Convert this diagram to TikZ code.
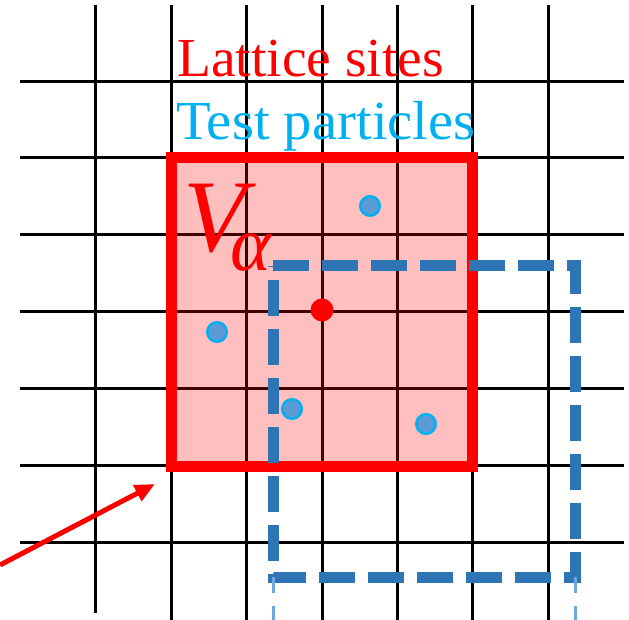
\documentclass[tikz,border=0pt]{standalone}
\usepackage{fontspec}
\setmainfont{Liberation Serif}
\usetikzlibrary{arrows.meta}
\definecolor{tpcyan}{HTML}{00B0F0}
\definecolor{pfill}{HTML}{5B9BD5}
\definecolor{dblue}{HTML}{2E75B6}
\definecolor{lblue}{HTML}{6FA8DC}
\tikzset{
  gridline/.style={black, line width=3pt},
  particle/.style={circle, fill=pfill, draw=tpcyan, line width=2.5pt, minimum size=19.5pt, inner sep=0pt},
  site/.style={circle, fill=red, minimum size=23pt, inner sep=0pt},
  label/.style={anchor=base west, inner sep=0pt},
  bigdash/.style={dblue, line width=11pt, dash pattern=on 36pt off 13pt},
  thindash/.style={lblue, line width=3pt, dash pattern=on 16pt off 13pt},
  pointer/.style={red, line width=5pt, -{Triangle[length=20pt,width=17pt]}}
}
\begin{document}
\begin{tikzpicture}[x=1pt,y=-1pt]
\useasboundingbox (0,0) rectangle (629,620);
% grid
\foreach \y in {82,158,235,311,388,465,542}
  \draw[gridline] (20,\y) -- (624,\y);
\draw[gridline] (95,5) -- (95,613);
\foreach \x in {171,246,322,397,472,548}
  \draw[gridline] (\x,5) -- (\x,620);
% red cell
\fill[red, fill opacity=0.25] (171,158) rectangle (472,466);
\draw[red, line width=11pt] (171,158) rectangle (472,466);
% texts
\node[label, text=red, font=\fontsize{55}{60}\selectfont] (lat) at (177,77) {\scalebox{1.01}[1]{Lattice sites}};
\node[label, text=tpcyan, font=\fontsize{55}{60}\selectfont] (tp) at (176,140) {\scalebox{1.03}[1]{Test particles}};
\node[label, text=red, font=\fontsize{103}{110}\selectfont\itshape] (V) at (183,252) {V\kern-16pt\raisebox{-19pt}{\fontsize{78}{80}\selectfont α}};
% lattice site and particles
\node[site] (s0) at (322,310) {};
\node[particle] (p1) at (370,206) {};
\node[particle] (p2) at (217,332) {};
\node[particle] (p3) at (292,409) {};
\node[particle] (p4) at (426,424) {};
% dashed cell
\draw[bigdash] (273,266) -- (575,266) -- (575,577) -- (273,577) -- cycle;
\coordinate (t1a) at (273,577); \coordinate (t1b) at (273,622);
\coordinate (t2a) at (575,577); \coordinate (t2b) at (575,622);
\draw[thindash] (t1a) -- (t1b);
\draw[thindash] (t2a) -- (t2b);
% arrow
\coordinate (arrS) at (0,565);
\coordinate (arrE) at (155,484);
\draw[pointer] (arrS) -- (arrE);
\end{tikzpicture}
\end{document}
